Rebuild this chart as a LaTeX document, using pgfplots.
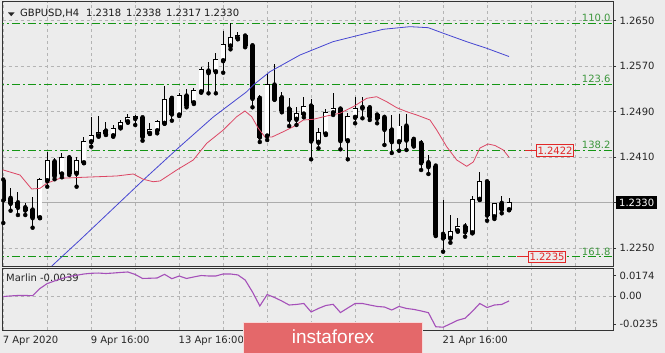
\documentclass[border=0pt]{standalone}
\usepackage{pgfplots}
\usepackage{pgfplotstable}
\pgfplotsset{compat=1.18}
\usepackage{fontspec}
\setmainfont{DejaVu Sans}
\newfontfamily\libfont{Liberation Sans}
\definecolor{bgcol}{RGB}{236,236,236}
\definecolor{fibgreen}{RGB}{20,150,20}
\definecolor{fibtext}{RGB}{60,150,60}
\definecolor{maRed}{RGB}{220,70,100}
\definecolor{maBlue}{RGB}{70,70,210}
\definecolor{marlin}{RGB}{165,80,185}
\definecolor{lblred}{RGB}{225,40,40}
\definecolor{logored}{RGB}{228,104,106}
\definecolor{gridcol}{RGB}{180,180,180}

\pgfplotstableread{
i o h l c
0 1.23700 1.23736 1.22945 1.23349
1 1.23379 1.23554 1.23161 1.23291
2 1.23301 1.23495 1.23085 1.23221
3 1.23214 1.23291 1.23085 1.23173
4 1.23173 1.23407 1.22862 1.23038
5 1.23038 1.23730 1.23033 1.23713
6 1.23688 1.24198 1.23583 1.24040
7 1.24022 1.24082 1.23713 1.23771
8 1.23806 1.24170 1.23748 1.24092
9 1.24092 1.24140 1.23788 1.23818
10 1.23818 1.24099 1.23583 1.24034
11 1.24004 1.24461 1.23999 1.24374
12 1.24374 1.24813 1.24286 1.24479
13 1.24479 1.24825 1.24461 1.24539
14 1.24562 1.24725 1.24491 1.24509
15 1.24479 1.24667 1.24461 1.24609
16 1.24620 1.24755 1.24609 1.24707
17 1.24725 1.24860 1.24707 1.24795
18 1.24781 1.24843 1.24667 1.24816
19 1.24795 1.24813 1.24391 1.24461
20 1.24521 1.24697 1.24509 1.24591
21 1.24567 1.24755 1.24521 1.24725
22 1.24697 1.25352 1.24693 1.25119
23 1.25136 1.25154 1.24743 1.24860
24 1.24843 1.25224 1.24825 1.25177
25 1.25177 1.25294 1.24978 1.25018
26 1.25059 1.25312 1.25036 1.25270
27 1.25252 1.25692 1.25235 1.25634
28 1.25616 1.25779 1.25224 1.25586
29 1.25604 1.25927 1.25224 1.25809
30 1.25797 1.26324 1.25586 1.26073
31 1.26055 1.26465 1.25997 1.26208
32 1.26191 1.26307 1.26173 1.26243
33 1.26231 1.26236 1.26033 1.26061
34 1.26061 1.26073 1.24978 1.25136
35 1.25136 1.25194 1.24368 1.24456
36 1.24474 1.25563 1.24403 1.25370
37 1.25370 1.25739 1.25115 1.25119
38 1.25147 1.25252 1.24890 1.24918
39 1.24948 1.25136 1.24649 1.24767
40 1.24767 1.24989 1.24667 1.24860
41 1.24860 1.25164 1.24802 1.24989
42 1.25001 1.25119 1.24064 1.24386
43 1.24363 1.24609 1.24257 1.24532
44 1.24509 1.24943 1.24491 1.24890
45 1.24883 1.25224 1.24843 1.24961
46 1.24948 1.24989 1.24240 1.24391
47 1.24391 1.24873 1.24064 1.24813
48 1.24802 1.25164 1.24697 1.24961
49 1.24975 1.25164 1.24785 1.24966
50 1.24971 1.24989 1.24755 1.24813
51 1.24843 1.24873 1.24697 1.24785
52 1.24802 1.24813 1.24316 1.24591
53 1.24579 1.24843 1.24175 1.24374
54 1.24374 1.24860 1.24215 1.24649
55 1.24649 1.24860 1.24228 1.24403
56 1.24416 1.24430 1.24289 1.24307
57 1.24345 1.24403 1.23876 1.24004
58 1.24004 1.24140 1.23806 1.23934
59 1.23946 1.23964 1.22716 1.22734
60 1.22746 1.23349 1.22440 1.22681
61 1.22676 1.23085 1.22598 1.22792
62 1.22809 1.23038 1.22792 1.22880
63 1.22880 1.22950 1.22704 1.22792
64 1.22774 1.23419 1.22764 1.23361
65 1.23361 1.23846 1.23349 1.23670
66 1.23670 1.23700 1.22985 1.23085
67 1.23055 1.23301 1.23015 1.23291
68 1.23291 1.23419 1.23115 1.23186
69 1.23180 1.23380 1.23170 1.23300
}\ohlc

\pgfplotstableread{
i p
6.3 1.22150
7.50 1.22294
10.46 1.22646
19.10 1.23700
23.87 1.24263
28.65 1.24808
33.21 1.25252
34.11 1.25370
36.38 1.25604
40.48 1.25897
44.98 1.26131
49.58 1.26279
51.84 1.26349
55.48 1.26395
57.98 1.26377
60.03 1.26279
63.22 1.26131
65.95 1.26015
69.0 1.25870
}\maslow

\pgfplotstableread{
i p
-0.5 1.23876
0 1.23876
2.28 1.23788
3.87 1.23542
5.01 1.23554
5.92 1.23642
7.74 1.23730
10.91 1.23748
15.47 1.23771
17.74 1.23806
19.10 1.23713
20.46 1.23670
21.38 1.23683
23.66 1.23876
25.92 1.24052
27.75 1.24345
30.01 1.24579
31.84 1.24813
32.97 1.24913
33.89 1.24813
34.79 1.24609
35.70 1.24456
36.66 1.24456
38.20 1.24549
39.56 1.24637
40.93 1.24755
42.29 1.24767
44.12 1.24825
45.93 1.24873
47.75 1.24989
49.58 1.25136
50.94 1.25164
52.31 1.25076
53.67 1.24971
55.03 1.24901
56.40 1.24843
58.21 1.24755
59.13 1.24579
60.49 1.24286
61.86 1.24052
63.22 1.23941
64.12 1.24017
65.03 1.24263
66.13 1.24333
67.08 1.24307
68.21 1.24228
69.0 1.24100
}\mafast

\pgfplotstableread{
i v
0 -0.0002
1 0.0003
2 0.0007
3 0.0007
4 0.0005
5 0.0066
6 0.0108
7 0.0130
8 0.0151
9 0.0168
10 0.0178
11 0.0189
12 0.0195
13 0.0197
14 0.0193
15 0.0197
16 0.0202
17 0.0206
18 0.0185
19 0.0151
20 0.0153
21 0.0155
22 0.0186
23 0.0149
24 0.0172
25 0.0151
26 0.0164
27 0.0176
28 0.0172
29 0.0172
30 0.0189
31 0.0189
32 0.0181
33 0.0138
34 0.0036
35 -0.0082
36 0.0015
37 -0.0010
38 -0.0040
39 -0.0074
40 -0.0069
41 -0.0061
42 -0.0133
43 -0.0103
44 -0.0078
45 -0.0068
46 -0.0138
47 -0.0099
48 -0.0061
49 -0.0061
50 -0.0074
51 -0.0086
52 -0.0091
53 -0.0116
54 -0.0086
55 -0.0103
56 -0.0111
57 -0.0124
58 -0.0139
59 -0.0258
60 -0.0262
61 -0.0233
62 -0.0203
63 -0.0186
64 -0.0127
65 -0.0061
66 -0.0095
67 -0.0074
68 -0.0069
69 -0.0039
}\marlintab

\pgfplotsset{
  mtframe/.style={
    scale only axis, anchor=south west,
    width=610.3pt,
    xmin=-0.08, xmax=83.18,
    axis line style={black!80, line width=0.8pt},
    xtick={0,6,...,78}, xtick style={draw=none},
    ytick pos=right, yticklabel pos=right,
    scaled y ticks=false, scaled x ticks=false,
    tick align=outside, major tick length=3pt,
    ytick style={black!80, line width=0.6pt},
    tick label style={font=\fontsize{10}{12}\selectfont, text=black!85},
    xmajorgrids,
    major grid style={gridcol, dash pattern=on 3pt off 3pt, line width=0.6pt},
  },
  wickstyle/.style={forget plot, only marks, mark=none,
    error bars/.cd, y dir=plus, y explicit, error mark=none,
    error bar style={black, line width=0.9pt}},
  bodyblack/.style={forget plot, only marks, mark=none,
    error bars/.cd, y dir=plus, y explicit, error mark=none,
    error bar style={black, line width=5pt}},
  bodywhite/.style={forget plot, only marks, mark=none,
    error bars/.cd, y dir=plus, y explicit, error mark=none,
    error bar style={white, line width=3.5pt}},
  fibline/.style={fibgreen, line width=0.9pt, dash pattern=on 8pt off 3pt on 2pt off 3pt, forget plot},
}
\tikzset{
  fiblabel/.style={anchor=base east, inner sep=0pt, text=fibtext, font=\fontsize{10}{12}\selectfont},
  pricelabel/.style={anchor=west, draw=lblred, fill=bgcol, text=lblred, line width=0.7pt,
    inner xsep=1.2pt, inner ysep=2pt, font=\fontsize{10}{12}\selectfont},
}

\begin{document}
\begin{tikzpicture}
\fill[bgcol] (0pt,0pt) rectangle (665pt,353pt);

% ---------------- main price panel ----------------
\begin{axis}[mtframe, name=main,
  at={(2.7pt,87pt)}, height=264.3pt,
  ymin=1.22189, ymax=1.26834,
  xticklabels={},
  ytick={1.2250,1.2410,1.2490,1.2570,1.2650},
  yticklabels={1.2250,1.2410,1.2490,1.2570,1.2650},
  extra y ticks={1.2330}, extra y tick labels={1.2330},
  extra y tick style={grid=none,
    tick label style={fill=black, text=white, inner xsep=3pt, inner ysep=2.5pt}},
  ymajorgrids,
]
% current price line
\addplot[forget plot, gray!65, line width=0.6pt] coordinates {(-1,1.2330) (84,1.2330)};
% fibonacci levels
\addplot[fibline] coordinates {(-1,1.26455) (84,1.26455)};
\addplot[fibline] coordinates {(-1,1.25377) (84,1.25377)};
\addplot[fibline] coordinates {(-1,1.24220) (84,1.24220)};
\addplot[fibline] coordinates {(-1,1.22350) (84,1.22350)};
% candles
\addplot[wickstyle] table[x=i, y=l, y error plus expr={\thisrow{h}-\thisrow{l}}] \ohlc;
\addplot[bodyblack] table[x=i, y expr={min(\thisrow{o},\thisrow{c})-0.00009},
   y error plus expr={abs(\thisrow{c}-\thisrow{o})+0.00018}] \ohlc;
\addplot[bodywhite] table[x=i, y expr={\thisrow{o}+0.00008},
   y error plus expr={max(\thisrow{c}-\thisrow{o}-0.00016,0)}] \ohlc;
% moving averages
\addplot[maBlue, line width=0.8pt, no marks] table[x=i, y=p] \maslow;
\addplot[maRed, line width=0.8pt, no marks] table[x=i, y=p] \mafast;
% labels
\node[fiblabel] at (axis cs:82.87,1.26485) {110.0};
\node[fiblabel] at (axis cs:82.87,1.25407) {123.6};
\node[fiblabel] at (axis cs:82.87,1.24250) {138.2};
\node[fiblabel] at (axis cs:82.87,1.22380) {161.8};
\draw[lblred, line width=0.8pt] (axis cs:71.2,1.2422) -- (axis cs:72.67,1.2422);
\node[pricelabel] at (axis cs:72.67,1.2422) {1.2422};
\draw[lblred, line width=0.8pt] (axis cs:70.1,1.2235) -- (axis cs:71.58,1.2235);
\node[pricelabel] at (axis cs:71.58,1.2235) {1.2235};
\end{axis}

% ---------------- Marlin panel ----------------
\begin{axis}[mtframe, name=lower,
  at={(2.7pt,23pt)}, height=62pt,
  ymin=-0.02856, ymax=0.02398,
  xticklabels={7 Apr 2020,,9 Apr 16:00,,13 Apr 16:00,,,,,,21 Apr 16:00,,,},
  xticklabel style={anchor=north west, xshift=-4pt},
  ytick={-0.0235,0,0.0174}, yticklabels={-0.0235,0.00,0.0174},
  extra y ticks={0}, extra y tick labels={},
  extra y tick style={grid=major, major tick length=0pt},
]
\node[anchor=base west, inner sep=0pt, text=black!85, font=\fontsize{10}{12}\selectfont]
  at (axis description cs:0.0054,0.782) {Marlin -0.0039};
\addplot[marlin, line width=1.1pt, no marks] table[x=i, y=v] \marlintab;
\end{axis}

% ---------------- header ----------------
\fill[black!85] (8pt,340.5pt) -- (14.5pt,340.5pt) -- (11.25pt,336.8pt) -- cycle;
\begin{scope}[every node/.style={anchor=base west, inner sep=0pt, text=black!90,
    font=\fontsize{10}{12}\selectfont}]
\node at (20pt,336.3pt) {GBPUSD,H4};
\node at (86pt,336.3pt) {1.2318};
\node at (126pt,336.3pt) {1.2338};
\node at (166pt,336.3pt) {1.2317};
\node at (204pt,336.3pt) {1.2330};
\end{scope}

% ---------------- logo ----------------
\fill[logored] (243.3pt,-1pt) rectangle (422.7pt,31.3pt);
\draw[white!75!logored, line width=0.9pt] (243.8pt,-1pt) -- (243.8pt,30.8pt) -- (422.2pt,30.8pt) -- (422.2pt,-1pt);
\node[text=white, font=\libfont\fontsize{19}{22}\selectfont] at (333pt,16pt) {instaforex};

\pgfresetboundingbox
\useasboundingbox (0pt,0pt) rectangle (665pt,353pt);
\end{tikzpicture}
\end{document}
